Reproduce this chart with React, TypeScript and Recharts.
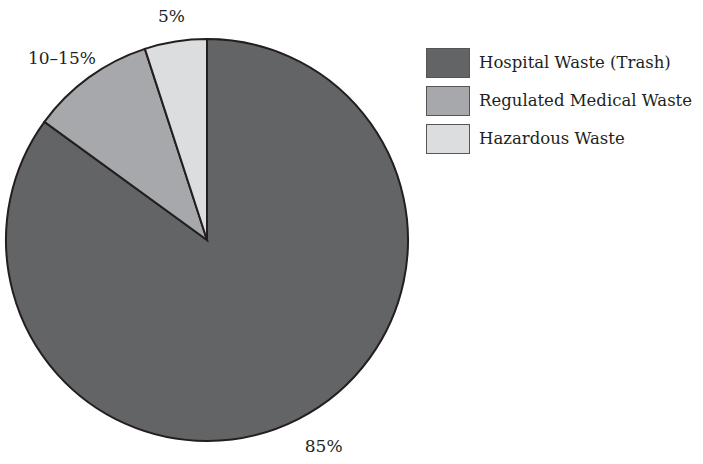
import { PieChart, Pie, Cell, Legend } from 'recharts'

const categories = ['Hospital Waste (Trash)', 'Regulated Medical Waste', 'Hazardous Waste']
const shares = [85, 10, 5]
const shareLabels = ['85%', '10–15%', '5%']
const colors = ['#636466', '#a7a8ab', '#dcdddf']

const data = categories.map((name, i) => ({ name, value: shares[i], label: shareLabels[i] }))

const FONT = '"DejaVu Serif", "Liberation Serif", serif'
const RAD = Math.PI / 180

// label sits a bit outside the rim, along the slice middle
const renderLabel = (props: any) => {
  const { cx, cy, midAngle, outerRadius, index } = props
  const r = outerRadius + (index === 0 ? 36 : index === 2 ? 26 : 32)
  const a = midAngle + (index === 2 ? 0 : 2.5)
  const x = cx + r * Math.cos(-a * RAD)
  const y = cy + r * Math.sin(-a * RAD)
  return (
    <text
      x={x}
      y={y}
      textAnchor="middle"
      dominantBaseline="central"
      fontFamily={FONT}
      fontSize={17}
      fill="#231f20"
    >
      {shareLabels[index]}
    </text>
  )
}

const LegendBox = () => (
  <div style={{ fontFamily: FONT }}>
    {data.map((d, i) => (
      <div key={d.name} style={{ display: 'flex', alignItems: 'center', height: 29, marginBottom: 9 }}>
        <div
          style={{
            width: 42,
            height: 28,
            background: colors[i],
            border: '1px solid #555',
            marginRight: 9,
          }}
        />
        <span style={{ fontSize: 16.5, color: '#231f20', whiteSpace: 'nowrap' }}>{d.name}</span>
      </div>
    ))}
  </div>
)

export default function App() {
  return (
    <div style={{ position: 'absolute', left: 0, top: 0, width: 703, height: 464, background: '#fff' }}>
      <PieChart width={703} height={464} margin={{ top: 0, right: 0, bottom: 0, left: 0 }}>
        <Pie
          data={data}
          dataKey="value"
          cx={207}
          cy={240}
          outerRadius={201}
          startAngle={90}
          endAngle={-270}
          stroke="#231f20"
          strokeWidth={2}
          label={renderLabel}
          labelLine={false}
          isAnimationActive={false}
        >
          {data.map((d, i) => (
            <Cell key={d.name} fill={colors[i]} />
          ))}
        </Pie>
        <Legend
          content={<LegendBox />}
          layout="vertical"
          wrapperStyle={{ left: 426, top: 48, width: 277 }}
        />
      </PieChart>
    </div>
  )
}
